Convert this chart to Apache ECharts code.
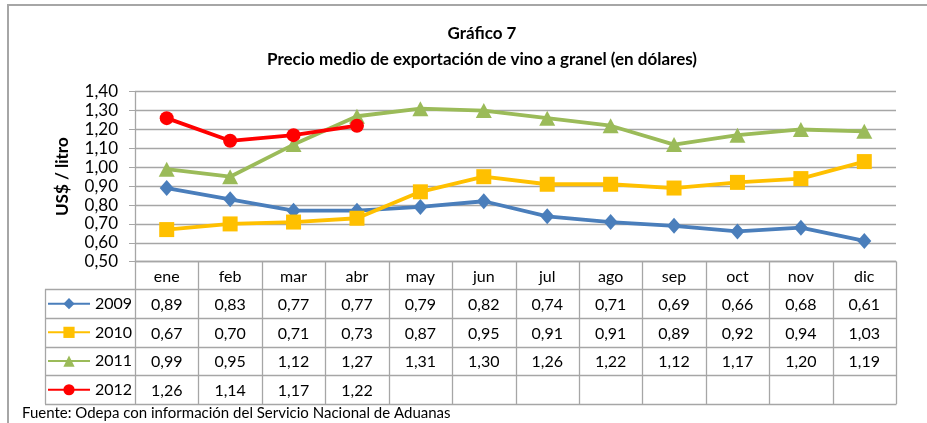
<!DOCTYPE html>
<html>
<head>
<meta charset="utf-8">
<script src="https://cdn.jsdelivr.net/npm/echarts@6/dist/echarts.min.js"></script>
<style>
  html, body { margin: 0; padding: 0; background: #fff; }
  #main { width: 927px; height: 423px; }
</style>
</head>
<body>
<div id="main"></div>
<script>
// data
var months = ['ene', 'feb', 'mar', 'abr', 'may', 'jun', 'jul', 'ago', 'sep', 'oct', 'nov', 'dic'];
var years = ['2009', '2010', '2011', '2012'];
var v2009 = [0.89, 0.83, 0.77, 0.77, 0.79, 0.82, 0.74, 0.71, 0.69, 0.66, 0.68, 0.61];
var v2010 = [0.67, 0.70, 0.71, 0.73, 0.87, 0.95, 0.91, 0.91, 0.89, 0.92, 0.94, 1.03];
var v2011 = [0.99, 0.95, 1.12, 1.27, 1.31, 1.30, 1.26, 1.22, 1.12, 1.17, 1.20, 1.19];
var v2012 = [1.26, 1.14, 1.17, 1.22, null, null, null, null, null, null, null, null];
var yTicks = [0.5, 0.6, 0.7, 0.8, 0.9, 1.0, 1.1, 1.2, 1.3, 1.4];

var colors = ['#4a7ebb', '#ffc000', '#9bbb59', '#ff0000'];
var symbols = ['diamond', 'rect', 'triangle', 'circle'];
var symSizes = [[14, 16], 15, [16, 15], 14];
var allVals = [v2009, v2010, v2011, v2012];

var FONT = 'Lato, "Open Sans", sans-serif';
var GRAY = '#a6a6a6';

// layout of plot + data table
var plotL = 135, plotR = 896, plotT = 91.7, plotB = 261.7;
var rowH = 28.7, headB = 289.3, legL = 45;
var colW = (plotR - plotL) / months.length;

function fmt(v) { return v == null ? '' : v.toFixed(2).replace('.', ','); }

var chart = echarts.init(document.getElementById('main'));

var g = [];
// outer frame (open at right and bottom)
g.push({ type: 'polyline', shape: { points: [[8, 430], [8, 5], [930, 5]] },
  style: { stroke: GRAY, lineWidth: 2, fill: null }, silent: true });

// table vertical lines
for (var i = 0; i <= months.length; i++) {
  var x = Math.round(plotL + i * colW) + 0.5;
  g.push({ type: 'line', shape: { x1: x, y1: plotB, x2: x, y2: headB + rowH * 4 },
    style: { stroke: GRAY, lineWidth: 1.3 }, silent: true });
}
g.push({ type: 'line', shape: { x1: legL + 0.5, y1: headB, x2: legL + 0.5, y2: headB + rowH * 4 },
  style: { stroke: GRAY, lineWidth: 1.3 }, silent: true });
// table horizontal lines
for (var r = 0; r <= 4; r++) {
  var y = Math.round(headB + r * rowH) + 0.5;
  g.push({ type: 'line', shape: { x1: legL, y1: y, x2: plotR + 0.5, y2: y },
    style: { stroke: GRAY, lineWidth: 1.3 }, silent: true });
}
// month headers
months.forEach(function (m, i) {
  g.push({ type: 'text', x: plotL + (i + 0.5) * colW, y: (plotB + headB) / 2 + 1,
    style: { text: m, font: '16px ' + FONT, fill: '#000', align: 'center', verticalAlign: 'middle' }, silent: true });
});
// values
allVals.forEach(function (arr, r) {
  arr.forEach(function (v, i) {
    g.push({ type: 'text', x: plotL + (i + 0.5) * colW, y: headB + (r + 0.5) * rowH + 1,
      style: { text: fmt(v), font: '16px ' + FONT, fill: '#000', align: 'center', verticalAlign: 'middle' }, silent: true });
  });
});
// source note
g.push({ type: 'text', x: 22, y: 413,
  style: { text: 'Fuente: Odepa con información del Servicio Nacional de Aduanas',
    font: '15px ' + FONT, fill: '#000', verticalAlign: 'middle' }, silent: true });

var series = years.map(function (yr, k) {
  return {
    name: yr,
    type: 'line',
    data: allVals[k],
    symbol: symbols[k],
    symbolSize: symSizes[k],
    showAllSymbol: true,
    lineStyle: { color: colors[k], width: 3.8 },
    itemStyle: { color: colors[k] },
    z: 2 + k
  };
});

// one legend per table row so each sits centred in its cell
var legends = years.map(function (yr, k) {
  return {
    orient: 'vertical',
    left: 47,
    top: headB + (k + 0.5) * rowH - 8,
    padding: 0,
    itemWidth: 42,
    itemHeight: 14,
    selectedMode: false,
    data: [yr],
    textStyle: { fontFamily: FONT, fontSize: 16, color: '#000' }
  };
});

chart.setOption({
  animation: false,
  color: colors,
  title: {
    text: 'Gráfico 7\nPrecio medio de exportación de vino a granel (en dólares)',
    left: 477, top: 16, textAlign: 'center',
    textStyle: { fontFamily: FONT, fontSize: 17, fontWeight: 'bold', color: '#000', lineHeight: 26 }
  },
  legend: legends,
  grid: { left: plotL, right: 927 - plotR, top: plotT, bottom: 423 - plotB, containLabel: false },
  xAxis: {
    type: 'category',
    data: months,
    boundaryGap: true,
    axisLine: { lineStyle: { color: GRAY, width: 1.3 } },
    axisTick: { show: false },
    axisLabel: { show: false }
  },
  yAxis: {
    type: 'value',
    min: yTicks[0],
    max: yTicks[yTicks.length - 1],
    interval: 0.1,
    name: 'US$ / litro',
    nameLocation: 'middle',
    nameRotate: 90,
    nameGap: 64,
    nameTextStyle: { fontFamily: FONT, fontSize: 17, fontWeight: 'bold', color: '#000' },
    axisLine: { show: true, lineStyle: { color: GRAY, width: 1.3 } },
    axisTick: { show: true, length: 6, lineStyle: { color: GRAY } },
    axisLabel: { margin: 17, fontFamily: FONT, fontSize: 17, color: '#000',
      formatter: function (v) { return fmt(v); } },
    splitLine: { lineStyle: { color: GRAY, width: 1.3 } }
  },
  series: series,
  graphic: g
});
</script>
</body>
</html>
